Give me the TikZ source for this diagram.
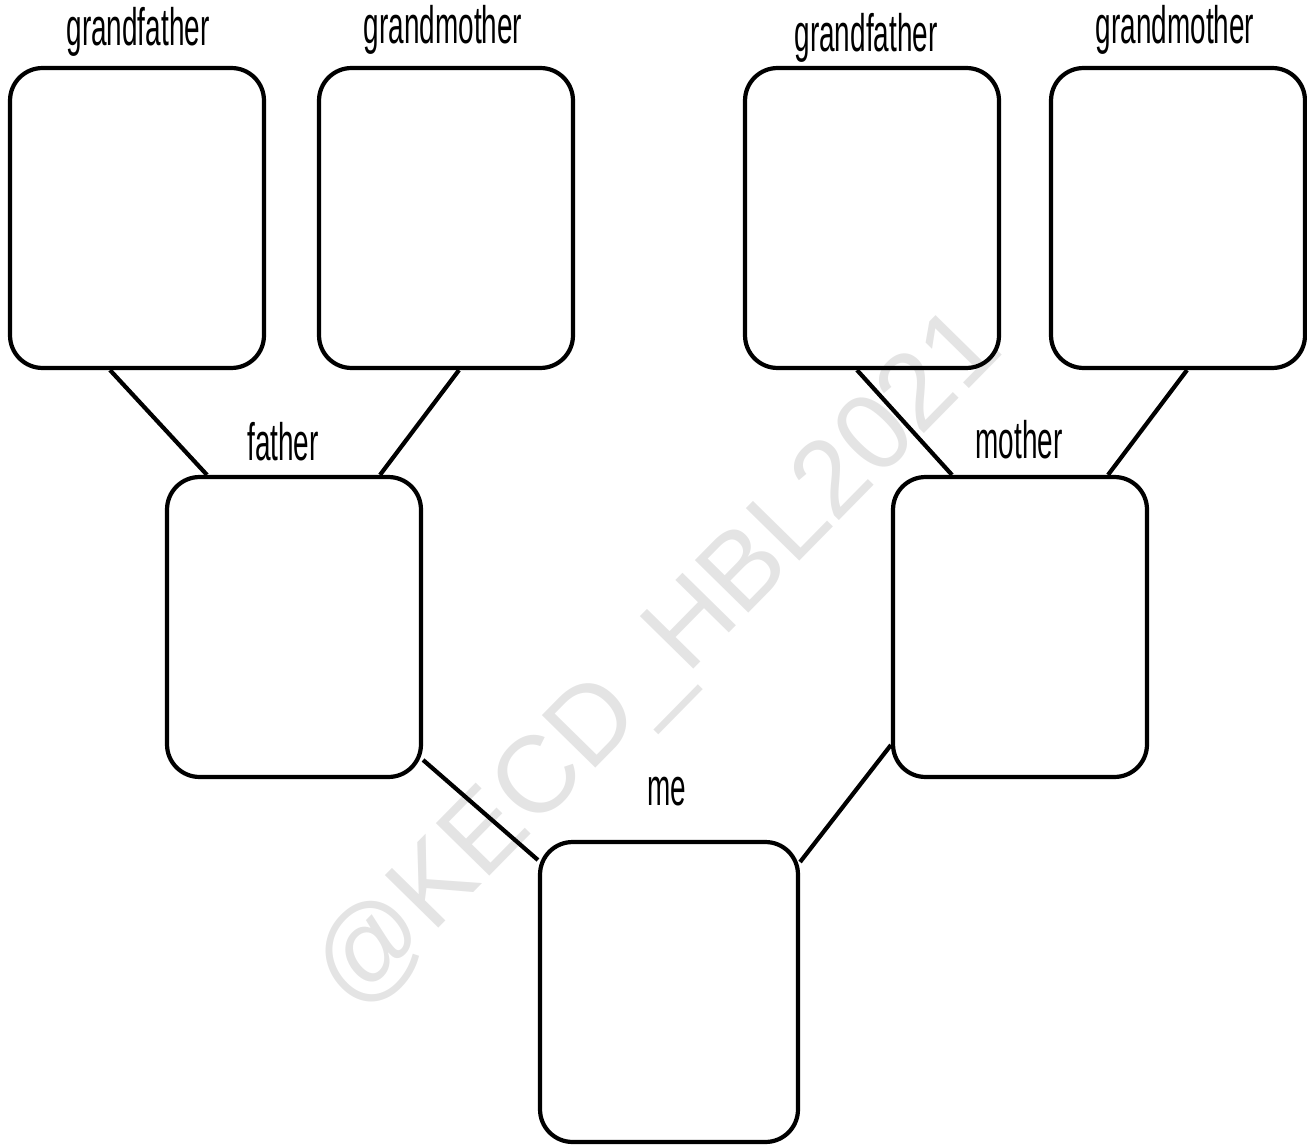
\documentclass[tikz,border=0pt]{standalone}
\usepackage{fontspec}
\setmainfont{Liberation Sans}
\definecolor{TreeInk}{HTML}{000000}
\definecolor{TreeMark}{HTML}{E4E4E4}
\usetikzlibrary{calc}

\begin{document}
\begin{tikzpicture}[x=0.02cm,y=-0.02cm,
      member/.style={draw=TreeInk,line width=2.4pt,rounded corners=0.65cm,
                     minimum width=5.08cm,minimum height=6.0cm,inner sep=0pt},
      tag/.style={font=\fontsize{30}{32}\selectfont,xscale=0.53,inner sep=0pt,anchor=base},
      link/.style={line width=2.4pt,draw=TreeInk}]
    \useasboundingbox (0,0) rectangle (1307,1148);
    \node[text=TreeMark,font=\fontsize{62}{64}\selectfont,rotate=45.5] (mark) at (660,662) {@KECD\_HBL2021};
    % grandparents
    \node[member] (gfL) at (137,218) {};
    \node[member] (gmL) at (446,218) {};
    \node[member] (gfR) at (872,218) {};
    \node[member] (gmR) at (1178,218) {};
    % parents and me
    \node[member] (father) at (294,627) {};
    \node[member] (mother) at (1020,627) {};
    \node[member,minimum width=5.16cm] (me) at (669,992) {};
    \node[tag] (tgfL) at (138,46) {grandfather};
    \node[tag] (tgmL) at (443,44) {grandmother};
    \node[tag] (tgfR) at (866,52) {grandfather};
    \node[tag] (tgmR) at (1175,44) {grandmother};
    \node[tag] (tfather) at (283,460) {father};
    \node[tag] (tmother) at (1019,458) {mother};
    \node[tag] (tme) at (667,805) {me};
    \foreach \a/\da/\b/\db in {gfL/-27/father/-87,gmL/13/father/86,gfR/-15/mother/-68,gmR/9/mother/88}
      \draw[link] ($(\a.south)+(\da,0)$) -- ($(\b.north)+(\db,0)$);
    \draw[link] ($(father.east)+(0,133)$) -- ($(me.west)+(0,-132)$);
    \draw[link] ($(mother.west)+(0,118)$) -- ($(me.east)+(0,-130)$);
  \end{tikzpicture}
\end{document}
